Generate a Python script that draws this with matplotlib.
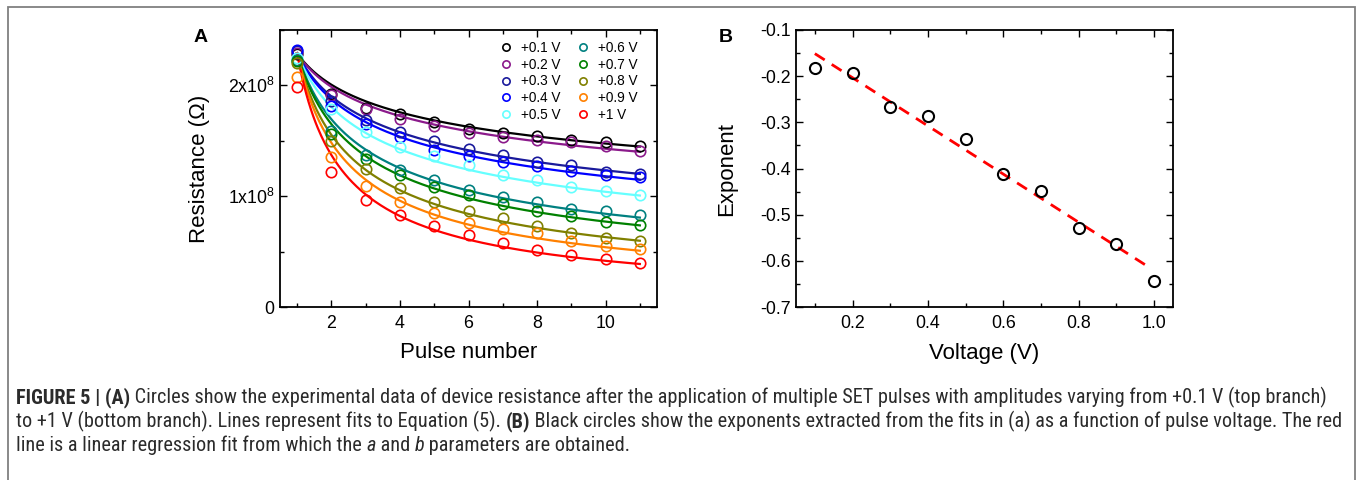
import numpy as np
import matplotlib
matplotlib.use("Agg")
import matplotlib.pyplot as plt
from matplotlib import font_manager
from matplotlib.patches import Rectangle
from matplotlib.ticker import MultipleLocator, FixedLocator, FixedFormatter

# ---------------- data ----------------
pulses = [1, 2, 3, 4, 5, 6, 7, 8, 9, 10, 11]
series_labels = ["+0.1 V", "+0.2 V", "+0.3 V", "+0.4 V", "+0.5 V",
                 "+0.6 V", "+0.7 V", "+0.8 V", "+0.9 V", "+1 V"]
series_colors = ["#000000", "#8b1a8b", "#1a1a9c", "#0000ff", "#66ffff",
                 "#008080", "#008000", "#808000", "#ff8000", "#ff0000"]

# resistance in units of 1e8 ohm
r_01 = [2.28, 1.92, 1.80, 1.74, 1.67, 1.61, 1.57, 1.54, 1.51, 1.49, 1.45]
r_02 = [2.29, 1.91, 1.79, 1.70, 1.63, 1.57, 1.53, 1.51, 1.49, 1.45, 1.41]
r_03 = [2.31, 1.86, 1.69, 1.58, 1.50, 1.43, 1.37, 1.31, 1.28, 1.22, 1.20]
r_04 = [2.32, 1.81, 1.65, 1.53, 1.42, 1.36, 1.31, 1.27, 1.23, 1.19, 1.17]
r_05 = [2.25, 1.79, 1.58, 1.44, 1.36, 1.28, 1.19, 1.15, 1.08, 1.05, 1.01]
r_06 = [2.23, 1.59, 1.37, 1.24, 1.15, 1.06, 0.99, 0.95, 0.88, 0.87, 0.83]
r_07 = [2.22, 1.56, 1.34, 1.19, 1.08, 1.01, 0.93, 0.87, 0.82, 0.77, 0.74]
r_08 = [2.20, 1.50, 1.25, 1.07, 0.95, 0.87, 0.80, 0.73, 0.67, 0.62, 0.60]
r_09 = [2.08, 1.35, 1.09, 0.95, 0.85, 0.76, 0.70, 0.67, 0.60, 0.55, 0.52]
r_10 = [1.99, 1.22, 0.97, 0.83, 0.73, 0.65, 0.58, 0.51, 0.47, 0.43, 0.40]
resistance_series = [r_01, r_02, r_03, r_04, r_05, r_06, r_07, r_08, r_09, r_10]

# power-law fit parameters R = A * n^b
fit_amplitude = [2.29, 2.29, 2.29, 2.29, 2.29, 2.29, 2.29, 2.29, 2.29, 2.29]
fit_exponent = [-0.191, -0.205, -0.269, -0.288, -0.343, -0.435, -0.473, -0.560, -0.628, -0.740]

voltage = [0.1, 0.2, 0.3, 0.4, 0.5, 0.6, 0.7, 0.8, 0.9, 1.0]
exponent = [-0.182, -0.194, -0.266, -0.287, -0.336, -0.411, -0.449, -0.529, -0.563, -0.643]
reg_slope = -0.522
reg_intercept = -0.099
reg_range = [0.1, 0.98]

a_yticks = [0, 1, 2]
a_yticklabels = ["0", "1x10$^{\\mathregular{8}}$", "2x10$^{\\mathregular{8}}$"]

# ---------------- style ----------------
W, H = 1357, 480
plt.rcParams['font.family'] = ['Liberation Sans', 'DejaVu Sans']
plt.rcParams['mathtext.fontset'] = 'custom'
plt.rcParams['mathtext.rm'] = 'Liberation Sans'
plt.rcParams['mathtext.it'] = 'Liberation Sans:italic'
plt.rcParams['mathtext.bf'] = 'Liberation Sans:bold'

fig = plt.figure(figsize=(W / 100, H / 100), dpi=100)

def style_axes(ax):
    for s in ax.spines.values():
        s.set_linewidth(1.3)
    ax.tick_params(which='both', direction='in', top=True, right=True, width=1.0)
    ax.tick_params(which='major', length=5, labelsize=12.8)
    ax.tick_params(which='minor', length=3)
    ax.tick_params(axis='y', pad=4)
    ax.tick_params(axis='x', pad=6)

# ---- panel A ----
axA = fig.add_axes([280 / W, (H - 307) / H, 377 / W, 277 / H])
n_fine = np.linspace(pulses[0], pulses[-1], 300)
for A, b, col in zip(fit_amplitude, fit_exponent, series_colors):
    axA.plot(n_fine, A * n_fine ** b, color=col, lw=1.6, zorder=2)
for vals, col, lab in zip(resistance_series, series_colors, series_labels):
    axA.plot(pulses, vals, ls='none', marker='o', ms=7.5, mfc='none', mec=col,
             mew=1.2, label=lab, zorder=3)
axA.set_xlim(0.5, 11.5)
axA.set_ylim(0, 2.5)
axA.xaxis.set_major_locator(FixedLocator([2, 4, 6, 8, 10]))
axA.xaxis.set_minor_locator(FixedLocator([1, 3, 5, 7, 9, 11]))
axA.yaxis.set_major_locator(FixedLocator(a_yticks))
axA.yaxis.set_major_formatter(FixedFormatter(a_yticklabels))
axA.yaxis.set_minor_locator(MultipleLocator(0.5))
style_axes(axA)
axA.set_xlabel("Pulse number", fontsize=16)
axA.set_ylabel("Resistance (Ω)", fontsize=16)
axA.xaxis.set_label_coords(0.5, (307 - 353) / 277)
axA.xaxis.label.set_va('center')
axA.yaxis.set_label_coords((199 - 280) / 377, 0.5)
axA.yaxis.label.set_va('center')
leg = axA.legend(ncol=2, frameon=False, fontsize=9.8, markerscale=0.7,
                 loc='upper right', bbox_to_anchor=(0.975, 0.995),
                 handletextpad=0.5, columnspacing=1.1, labelspacing=0.2,
                 handlelength=1.2, borderaxespad=0.3)

# ---- panel B ----
axB = fig.add_axes([796 / W, (H - 307) / H, 377 / W, 277 / H])
xr = np.array(reg_range)
axB.plot(xr, reg_slope * xr + reg_intercept, color='#ff0000', lw=2.0,
         dashes=(4.2, 3), zorder=2)
axB.plot(voltage, exponent, ls='none', marker='o', ms=8, mfc='none', mec='black',
         mew=1.5, zorder=3)
axB.set_xlim(0.05, 1.05)
axB.set_ylim(-0.7, -0.1)
axB.xaxis.set_major_locator(FixedLocator([0.2, 0.4, 0.6, 0.8, 1.0]))
axB.xaxis.set_major_formatter(FixedFormatter(["0.2", "0.4", "0.6", "0.8", "1.0"]))
axB.xaxis.set_minor_locator(FixedLocator([0.1, 0.3, 0.5, 0.7, 0.9]))
axB.yaxis.set_major_locator(MultipleLocator(0.1))
axB.yaxis.set_minor_locator(MultipleLocator(0.05))
axB.yaxis.set_major_formatter(matplotlib.ticker.FuncFormatter(lambda v, p: f"{v:.1f}"))
style_axes(axB)
axB.set_xlabel("Voltage (V)", fontsize=16)
axB.set_ylabel("Exponent", fontsize=16)
axB.xaxis.set_label_coords(0.5, (307 - 353) / 277)
axB.xaxis.label.set_va('center')
axB.yaxis.set_label_coords((727 - 796) / 377, 0.5)
axB.yaxis.label.set_va('center')

# panel letters
fig.text(201 / W, 1 - 38 / H, "A", fontsize=14, fontweight='bold', ha='center', va='center')
fig.text(726 / W, 1 - 38 / H, "B", fontsize=14, fontweight='bold', ha='center', va='center')

# border frame
fig.patches.append(Rectangle((7.5 / W, -0.2), (1355 - 7.5) / W, 1.2 - 6.5 / H,
                             transform=fig.transFigure, fill=False,
                             edgecolor='#808080', lw=1.3))

# ---------------- caption ----------------
names = {f.name for f in font_manager.fontManager.ttflist}
cap_font = 'Liberation Sans'
for cand in ['Liberation Sans Narrow', 'Roboto Condensed', 'Open Sans Condensed',
             'DejaVu Sans Condensed', 'Noto Sans Condensed']:
    if cand in names:
        cap_font = cand
        break
cap_color = '#2b2b2b'
caption_lines = [
    [("FIGURE 5 | (A)", 'bold', 'normal'),
     (" Circles show the experimental data of device resistance after the application of multiple SET pulses with amplitudes varying from +0.1 V (top branch)", 'normal', 'normal')],
    [("to +1 V (bottom branch). Lines represent fits to Equation (5). ", 'normal', 'normal'),
     ("(B)", 'bold', 'normal'),
     (" Black circles show the exponents extracted from the fits in (a) as a function of pulse voltage. The red", 'normal', 'normal')],
    [("line is a linear regression fit from which the ", 'normal', 'normal'),
     ("a", 'normal', 'italic'),
     (" and ", 'normal', 'normal'),
     ("b", 'normal', 'italic'),
     (" parameters are obtained.", 'normal', 'normal')],
]
baselines = [403, 427, 451]
x_start = 16
target_w = 1338 - 16

renderer = fig.canvas.get_renderer()

def measure(pieces, size):
    tot = 0
    for txt, wt, st in pieces:
        t = fig.text(0, 0, txt, fontsize=size, fontweight=wt, fontstyle=st, family=cap_font)
        tot += t.get_window_extent(renderer).width
        t.remove()
    return tot

base_size = 11.0
w_max = max(measure(caption_lines[0], base_size), measure(caption_lines[1], base_size))
cap_size = base_size * target_w / w_max

for pieces, yb in zip(caption_lines, baselines):
    x = x_start
    for txt, wt, st in pieces:
        t = fig.text(x / W, 1 - yb / H, txt, fontsize=cap_size, fontweight=wt,
                     fontstyle=st, family=cap_font, color=cap_color, va='baseline')
        x += t.get_window_extent(renderer).width

fig.savefig("out.png", dpi=100)
